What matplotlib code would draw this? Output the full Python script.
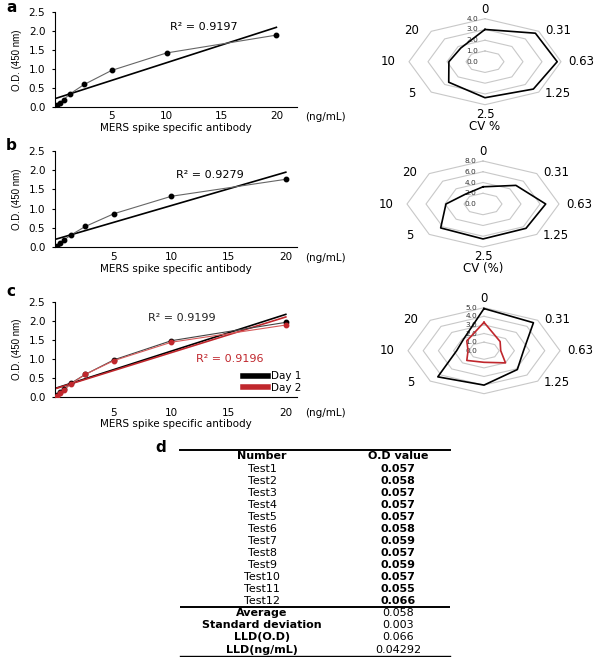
import matplotlib.pyplot as plt
import numpy as np

# standard curve concentrations (ng/mL) and O.D. readings
conc = [0, 0.31, 0.63, 1.25, 2.5, 5, 10, 20]
od_a = [0.05, 0.12, 0.20, 0.36, 0.60, 0.97, 1.43, 1.90]
od_b = [0.04, 0.12, 0.19, 0.32, 0.54, 0.87, 1.32, 1.76]
od_c_day1 = [0.05, 0.13, 0.21, 0.37, 0.60, 0.98, 1.48, 1.96]
od_c_day2 = [0.04, 0.12, 0.19, 0.35, 0.60, 0.96, 1.44, 1.89]

# CV % per concentration (radar charts)
cv_labels = ["0", "0.31", "0.63", "1.25", "2.5", "5", "10", "20"]
cv_a = [3.0, 3.75, 3.8, 3.6, 3.35, 2.7, 1.9, 1.8]
cv_b = [3.2, 4.9, 6.6, 6.4, 6.5, 6.3, 3.9, 2.6]
cv_c_day1 = [4.9, 4.6, 2.6, 3.1, 4.0, 4.3, 1.8, 1.9]
cv_c_day2 = [3.3, 1.5, 1.1, 2.0, 1.35, 1.6, 1.05, 1.6]

# table d
test_names = ["Test1", "Test2", "Test3", "Test4", "Test5", "Test6",
              "Test7", "Test8", "Test9", "Test10", "Test11", "Test12"]
test_values = ["0.057", "0.058", "0.057", "0.057", "0.057", "0.058",
               "0.059", "0.057", "0.059", "0.057", "0.055", "0.066"]
summary_names = ["Average", "Standard deviation", "LLD(O.D)", "LLD(ng/mL)"]
summary_values = ["0.058", "0.003", "0.066", "0.04292"]

RED = "#c0272d"
W, H = 600, 657

fig = plt.figure(figsize=(6, 6.57), dpi=100)


def px_axes(l, t, r, b):
    return fig.add_axes([l / W, 1 - b / H, (r - l) / W, (b - t) / H])


def curve_axes(ax, xmax, pad, unit_y):
    ax.set_xlim(-0.15, xmax)
    ax.set_ylim(0, 2.5)
    ax.set_xticks([5, 10, 15, 20])
    ax.set_yticks([0, 0.5, 1.0, 1.5, 2.0, 2.5])
    ax.set_yticklabels(["0.0", "0.5", "1.0", "1.5", "2.0", "2.5"])
    ax.tick_params(axis="x", length=0, pad=pad, labelsize=7.5)
    ax.tick_params(axis="y", length=2, pad=5, labelsize=7.5)
    for s in ["top", "right"]:
        ax.spines[s].set_visible(False)
    for s in ["left", "bottom"]:
        ax.spines[s].set_linewidth(0.8)
    ax.set_ylabel("O.D. (450 nm)", fontsize=7, family="Liberation Sans", labelpad=5)
    ax.set_xlabel("MERS spike specific antibody", fontsize=7.5, labelpad=1)
    ax.text(1.035, unit_y, "(ng/mL)", transform=ax.transAxes,
            fontsize=7.5, va="center")


def draw_curve(ax, od, col, line_col, lw_data=0.8):
    ax.plot(conc, od, color=line_col, lw=lw_data, marker="o", ms=3.2,
            mfc=col, mec=col, zorder=3)
    k, b = np.polyfit(conc, od, 1)
    xs = np.array([0, 20])
    ax.plot(xs, k * xs + b, color=col, lw=1.2, zorder=2)


# panel a
ax_a = px_axes(55, 12.3, 296.7, 107.3)
curve_axes(ax_a, 21.85, 3, -0.1)
draw_curve(ax_a, od_a, "black", "#666666")
ax_a.text(10.3, 2.11, "R² = 0.9197", fontsize=8, va="center")

# panel b
ax_b = px_axes(55, 150.7, 296.7, 247.3)
curve_axes(ax_b, 20.95, 3.5, -0.114)
draw_curve(ax_b, od_b, "black", "#666666")
ax_b.text(10.4, 1.87, "R² = 0.9279", fontsize=8, va="center")

# panel c
ax_c = px_axes(55, 301.7, 296.7, 397.3)
curve_axes(ax_c, 20.95, 7.5, -0.165)
draw_curve(ax_c, od_c_day1, "black", "#444444")
draw_curve(ax_c, od_c_day2, RED, "#d65a5a")
ax_c.text(8.0, 2.08, "R² = 0.9199", fontsize=8, va="center", color="#222222")
ax_c.text(12.2, 0.99, "R² = 0.9196", fontsize=8, va="center", color=RED)
h1, = ax_c.plot([], [], color="black", lw=4)
h2, = ax_c.plot([], [], color=RED, lw=4)
ax_c.legend([h1, h2], ["Day 1", "Day 2"], loc="lower right",
            bbox_to_anchor=(1.05, -0.03), frameon=False, fontsize=7.5,
            handlelength=2.4, handletextpad=0.3, labelspacing=0.15,
            borderpad=0.2)


def radar(ax, series, colors, rmax, step, y_low=-1.45,
          title=None, skip_bottom_label=False):
    n = len(cv_labels)
    th = 2 * np.pi * np.arange(n) / n
    th_c = np.append(th, th[0])
    for ring in np.arange(step, rmax + step / 2, step):
        rn = ring / rmax
        ax.plot(rn * np.sin(th_c), rn * np.cos(th_c), color="#c8c8c8", lw=0.8, zorder=1)
    for v in np.arange(0, rmax + step / 2, step):
        ax.text(-0.09, v / rmax, f"{v:.1f}", ha="right", va="center",
                fontsize=5.3, color="#333333", zorder=2)
    for vals, col in zip(series, colors):
        r = np.append(vals, vals[0]) / rmax
        ax.plot(r * np.sin(th_c), r * np.cos(th_c), color=col, lw=1.2, zorder=3)
    for i, lab in enumerate(cv_labels):
        if skip_bottom_label and i == 4:
            continue
        s, c = np.sin(th[i]), np.cos(th[i])
        lx = s * (1.27 if abs(c) < 0.01 else 1.36)
        ly = c * (1.22 if abs(s) < 0.01 else 1.03)
        ax.text(lx, ly, lab, ha="center", va="center", fontsize=8.5)
    if title:
        ax.text(0, -1.51, title, ha="center", va="center", fontsize=8.5)
    ax.set_xlim(-1.45, 1.45)
    ax.set_ylim(y_low, 1.45)
    ax.axis("off")


RX, RY = 76, 43


def radar_axes(cx, cy, y_low=-1.45):
    return px_axes(cx - 1.45 * RX, cy - 1.45 * RY, cx + 1.45 * RX, cy - y_low * RY)


radar(radar_axes(485, 61.7), [cv_a], ["black"], 4, 1, title="CV %")
radar(radar_axes(483, 204), [cv_b], ["black"], 8, 2, title="CV (%)")
radar(radar_axes(484, 350.7, -1.05), [cv_c_day1, cv_c_day2], ["black", RED],
      5, 1, y_low=-1.05, skip_bottom_label=True)

# panel letters
for lab, (x, y) in zip("abcd", [(6, 8), (6, 146), (6, 292), (155, 447)]):
    fig.text(x / W, 1 - y / H, lab, fontsize=11, fontweight="bold",
             va="center", ha="left")

# table d
ax_t = px_axes(180, 449.3, 450, H)
ax_t.set_xlim(180, 450)
ax_t.set_ylim(H - 449.3, 0)
ax_t.axis("off")
c1, c2 = 262, 398
ax_t.text(c1, 6.4, "Number", ha="center", va="center", fontsize=8, fontweight="bold")
ax_t.text(c2, 6.4, "O.D value", ha="center", va="center", fontsize=8, fontweight="bold")
for i, (nm, v) in enumerate(zip(test_names, test_values)):
    y = 20 + 12 * i
    ax_t.text(c1, y, nm, ha="center", va="center", fontsize=8)
    ax_t.text(c2, y, v, ha="center", va="center", fontsize=8, fontweight="bold")
for i, (nm, v) in enumerate(zip(summary_names, summary_values)):
    y = 164 + 12.1 * i
    ax_t.text(c1, y, nm, ha="center", va="center", fontsize=8, fontweight="bold")
    ax_t.text(c2, y, v, ha="center", va="center", fontsize=8)
ax_t.plot([180, 450], [0.8, 0.8], color="black", lw=1.4, clip_on=False)
ax_t.plot([180, 450], [158, 158], color="black", lw=1.4)
ax_t.plot([180, 450], [206.4, 206.4], color="black", lw=1.0, clip_on=False)

fig.savefig("out.png", dpi=100)
